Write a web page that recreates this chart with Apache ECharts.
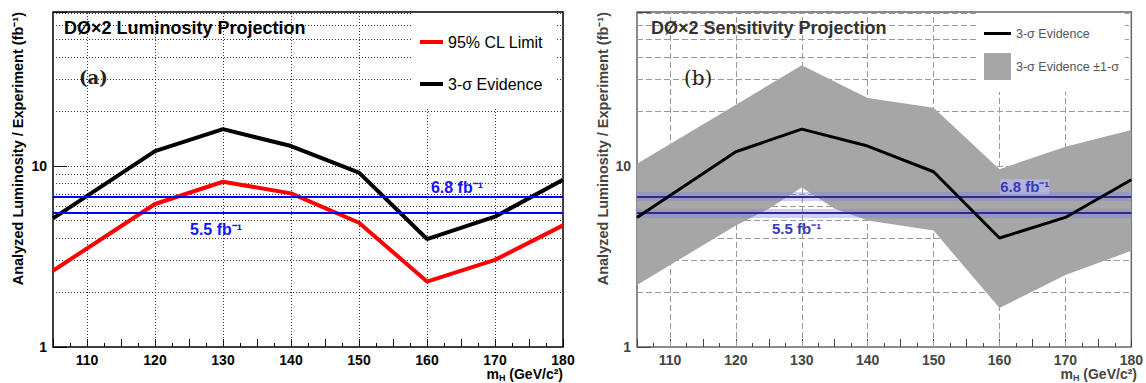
<!DOCTYPE html>
<html>
<head>
<meta charset="utf-8">
<script src="https://cdn.jsdelivr.net/npm/echarts@6/dist/echarts.min.js"></script>
<style>
  html, body { margin: 0; padding: 0; background: #fff; }
  #chart { width: 1146px; height: 383px; }
</style>
</head>
<body>
<div id="chart"></div>
<script>
// higgs mass points (GeV/c2)
const masses = [105, 120, 130, 140, 150, 160, 170, 180];
// panel (a) curves
const limit95 = [2.64, 6.17, 8.19, 7.06, 4.86, 2.30, 3.03, 4.70];
const evidenceA = [5.14, 12.1, 16.0, 12.9, 9.2, 3.95, 5.25, 8.4];
// panel (b) curve + 1-sigma band edges
const evidenceB = [5.2, 12.0, 16.0, 12.9, 9.3, 4.0, 5.2, 8.4];
const bandUpperMass = [105, 130, 140, 150, 160, 170, 180];
const bandUpper = [10.3, 36, 23.8, 21, 9.6, 12.8, 15.8];
const bandLowerMass = [105, 120, 125, 130, 135, 140, 150, 160, 170, 180];
const bandLower = [2.2, 4.7, 5.8, 7.6, 5.8, 5.0, 4.4, 1.64, 2.5, 3.4];
// projected luminosities (fb-1)
const lumiLines = [6.8, 5.5];
// grid positions
const gridX = [110, 120, 130, 140, 150, 160, 170];
const gridY = [2, 3, 4, 5, 6, 7, 8, 9, 10, 20, 30, 40, 50, 60, 70];
const yLabels = [1, 10];

const FONT = 'Liberation Sans';
const pairs = (xs, ys) => xs.map((x, i) => [x, ys[i]]);

const chart = echarts.init(document.getElementById('chart'), null, { renderer: 'svg' });

function xAxis(gridIndex, color) {
  return {
    gridIndex, type: 'value', min: 105, max: 180, interval: 5,
    axisLine: { show: false },
    axisTick: { inside: true, length: 8, lineStyle: { color } },
    minorTick: { show: true, splitNumber: 2, length: 4, lineStyle: { color } },
    splitLine: { show: false },
    axisLabel: {
      margin: 6, color, fontFamily: FONT, fontWeight: 'bold', fontSize: 14,
      formatter: v => (v % 10 === 0 ? String(v) : '')
    }
  };
}

function yAxis(gridIndex, color) {
  return {
    gridIndex, type: 'log', logBase: 10, min: 1, max: 71,
    axisLine: { show: false },
    axisTick: { inside: true, length: 14, lineStyle: { color } },
    splitLine: { show: false },
    axisLabel: {
      margin: 6, color, fontFamily: FONT, fontWeight: 'bold', fontSize: 14,
      formatter: v => {
        const r = Math.round(v);
        return yLabels.indexOf(r) >= 0 && Math.abs(v - r) < 1e-6 ? String(r) : '';
      }
    }
  };
}

function gridSeries(idx, lineStyle) {
  return {
    type: 'line', xAxisIndex: idx, yAxisIndex: idx, data: [], z: 1, silent: true,
    markLine: {
      z: 1, silent: true, symbol: 'none', animation: false,
      label: { show: false },
      lineStyle,
      data: gridX.map(v => ({ xAxis: v })).concat(gridY.map(v => ({ yAxis: v })))
    }
  };
}

function lumiMarkLine(z, color, width, labels) {
  return {
    z, silent: true, symbol: 'none', animation: false,
    lineStyle: { color, width, type: 'solid' },
    data: lumiLines.map((v, i) => ({
      yAxis: v,
      label: labels ? labels[i] : { show: false }
    }))
  };
}

const labelA = { color: '#1414ff', fontFamily: FONT, fontWeight: 'bold', fontSize: 16 };
const labelB = { color: '#3a3ab8', fontFamily: FONT, fontWeight: 'bold', fontSize: 15 };
const lineIcon = 'path://M0,0H27V3H0Z';

chart.setOption({
  backgroundColor: '#fff',
  animation: false,
  grid: [
    { left: 53, right: 583, top: 12, bottom: 36, show: true, borderColor: '#000', borderWidth: 1.5 },
    { left: 637, right: 9, top: 12, bottom: 36, show: true, borderColor: '#666', borderWidth: 1.5 }
  ],
  xAxis: [xAxis(0, '#000'), xAxis(1, '#444')],
  yAxis: [yAxis(0, '#000'), yAxis(1, '#444')],
  title: [
    { text: 'DØ×2 Luminosity Projection', left: 64, top: 19, padding: 0,
      textStyle: { fontFamily: FONT, fontWeight: 'bold', fontSize: 18, color: '#000' } },
    { text: '(a)', left: 79, top: 68, padding: 0,
      textStyle: { fontFamily: 'DejaVu Serif', fontWeight: 'bold', fontSize: 18, color: '#222' } },
    { text: 'DØ×2 Sensitivity Projection', left: 651, top: 19, padding: 0,
      textStyle: { fontFamily: FONT, fontWeight: 'bold', fontSize: 18, color: '#333' } },
    { text: '(b)', left: 684, top: 68, padding: 0,
      textStyle: { fontFamily: 'DejaVu Serif', fontWeight: 'normal', fontSize: 20, color: '#222' } }
  ],
  legend: [
    {
      orient: 'vertical', left: 413, top: 13, z: 10,
      backgroundColor: '#fff', padding: [21, 13, 16, 7],
      itemWidth: 23, itemHeight: 4, itemGap: 26,
      textStyle: { fontFamily: FONT, fontSize: 16, color: '#000' },
      data: [
        { name: '95% CL Limit', icon: 'rect' },
        { name: '3-σ Evidence', icon: 'rect' }
      ]
    },
    {
      orient: 'vertical', left: 978, top: 13, z: 10,
      backgroundColor: '#fff', padding: [14, 6, 12, 6],
      itemWidth: 27, itemHeight: 27, itemGap: 13,
      textStyle: { fontFamily: FONT, fontSize: 12.5, color: '#555' },
      data: [
        { name: '3-σ Evidence', icon: lineIcon },
        { name: '3-σ Evidence ±1-σ', icon: 'rect' }
      ]
    }
  ],
  series: [
    gridSeries(0, { color: '#333', width: 1, type: [1, 2] }),
    gridSeries(1, { color: '#999', width: 1, type: [6, 3] }),
    {
      name: '3-σ Evidence ±1-σ', type: 'custom', xAxisIndex: 1, yAxisIndex: 1, z: 2,
      data: [[bandUpperMass[0], bandUpper[0]]],
      itemStyle: { color: '#a6a6a6' },
      renderItem: (params, api) => {
        const up = pairs(bandUpperMass, bandUpper).map(p => api.coord(p));
        const lo = pairs(bandLowerMass, bandLower).map(p => api.coord(p)).reverse();
        return { type: 'polygon', shape: { points: up.concat(lo) }, style: { fill: '#a6a6a6' } };
      }
    },
    {
      name: 'lumi-halo', type: 'line', xAxisIndex: 1, yAxisIndex: 1, data: [], z: 3,
      markLine: lumiMarkLine(3, 'rgba(120,120,235,0.35)', 9)
    },
    {
      name: 'lumi-b', type: 'line', xAxisIndex: 1, yAxisIndex: 1, data: [], z: 3,
      markLine: lumiMarkLine(3, '#2d2d8f', 2, [
        Object.assign({ show: true, position: 'insideEndTop', distance: [82, 2], formatter: '6.8 fb⁻¹',
          backgroundColor: 'rgba(185,190,255,0.6)' }, labelB),
        Object.assign({ show: true, position: 'insideStartBottom', distance: [135, 8], formatter: '5.5 fb⁻¹' }, labelB)
      ])
    },
    {
      name: 'lumi-a', type: 'line', xAxisIndex: 0, yAxisIndex: 0, data: [], z: 5,
      markLine: lumiMarkLine(5, '#0000ff', 2, [
        Object.assign({ show: true, position: 'insideEndTop', distance: [80, 1], formatter: '6.8 fb⁻¹' }, labelA),
        Object.assign({ show: true, position: 'insideStartBottom', distance: [137, 8], formatter: '5.5 fb⁻¹' }, labelA)
      ])
    },
    {
      name: '95% CL Limit', type: 'line', xAxisIndex: 0, yAxisIndex: 0, z: 4,
      data: pairs(masses, limit95), symbol: 'none',
      lineStyle: { color: '#ff0000', width: 4 }, itemStyle: { color: '#ff0000' }
    },
    {
      name: '3-σ Evidence', type: 'line', xAxisIndex: 0, yAxisIndex: 0, z: 4,
      data: pairs(masses, evidenceA), symbol: 'none',
      lineStyle: { color: '#000', width: 4 }, itemStyle: { color: '#000' }
    },
    {
      name: '3-σ Evidence', type: 'line', xAxisIndex: 1, yAxisIndex: 1, z: 4,
      data: pairs(masses, evidenceB), symbol: 'none',
      lineStyle: { color: '#000', width: 3 }, itemStyle: { color: '#000' }
    }
  ],
  graphic: [
    { type: 'text', x: 18, y: 12, rotation: Math.PI / 2,
      style: { text: 'Analyzed Luminosity / Experiment (fb⁻¹)', align: 'right', verticalAlign: 'middle',
        font: 'bold 14.5px "Liberation Sans"', fill: '#000' } },
    { type: 'text', x: 603, y: 12, rotation: Math.PI / 2,
      style: { text: 'Analyzed Luminosity / Experiment (fb⁻¹)', align: 'right', verticalAlign: 'middle',
        font: 'bold 14.5px "Liberation Sans"', fill: '#444' } },
    { type: 'text', x: 563, y: 366,
      style: { text: '{a|m}{s|H}{a| (GeV/c²)}', align: 'right', verticalAlign: 'top', fill: '#000',
        rich: { a: { font: 'bold 14px "Liberation Sans"', lineHeight: 16, verticalAlign: 'middle' },
                s: { font: 'bold 9px "Liberation Sans"', lineHeight: 9, verticalAlign: 'bottom' } } } },
    { type: 'text', x: 1137, y: 366,
      style: { text: '{a|m}{s|H}{a| (GeV/c²)}', align: 'right', verticalAlign: 'top', fill: '#444',
        rich: { a: { font: 'bold 14px "Liberation Sans"', lineHeight: 16, verticalAlign: 'middle', color: '#444' },
                s: { font: 'bold 9px "Liberation Sans"', lineHeight: 9, verticalAlign: 'bottom', color: '#444' } } } }
  ]
});
</script>
</body>
</html>
